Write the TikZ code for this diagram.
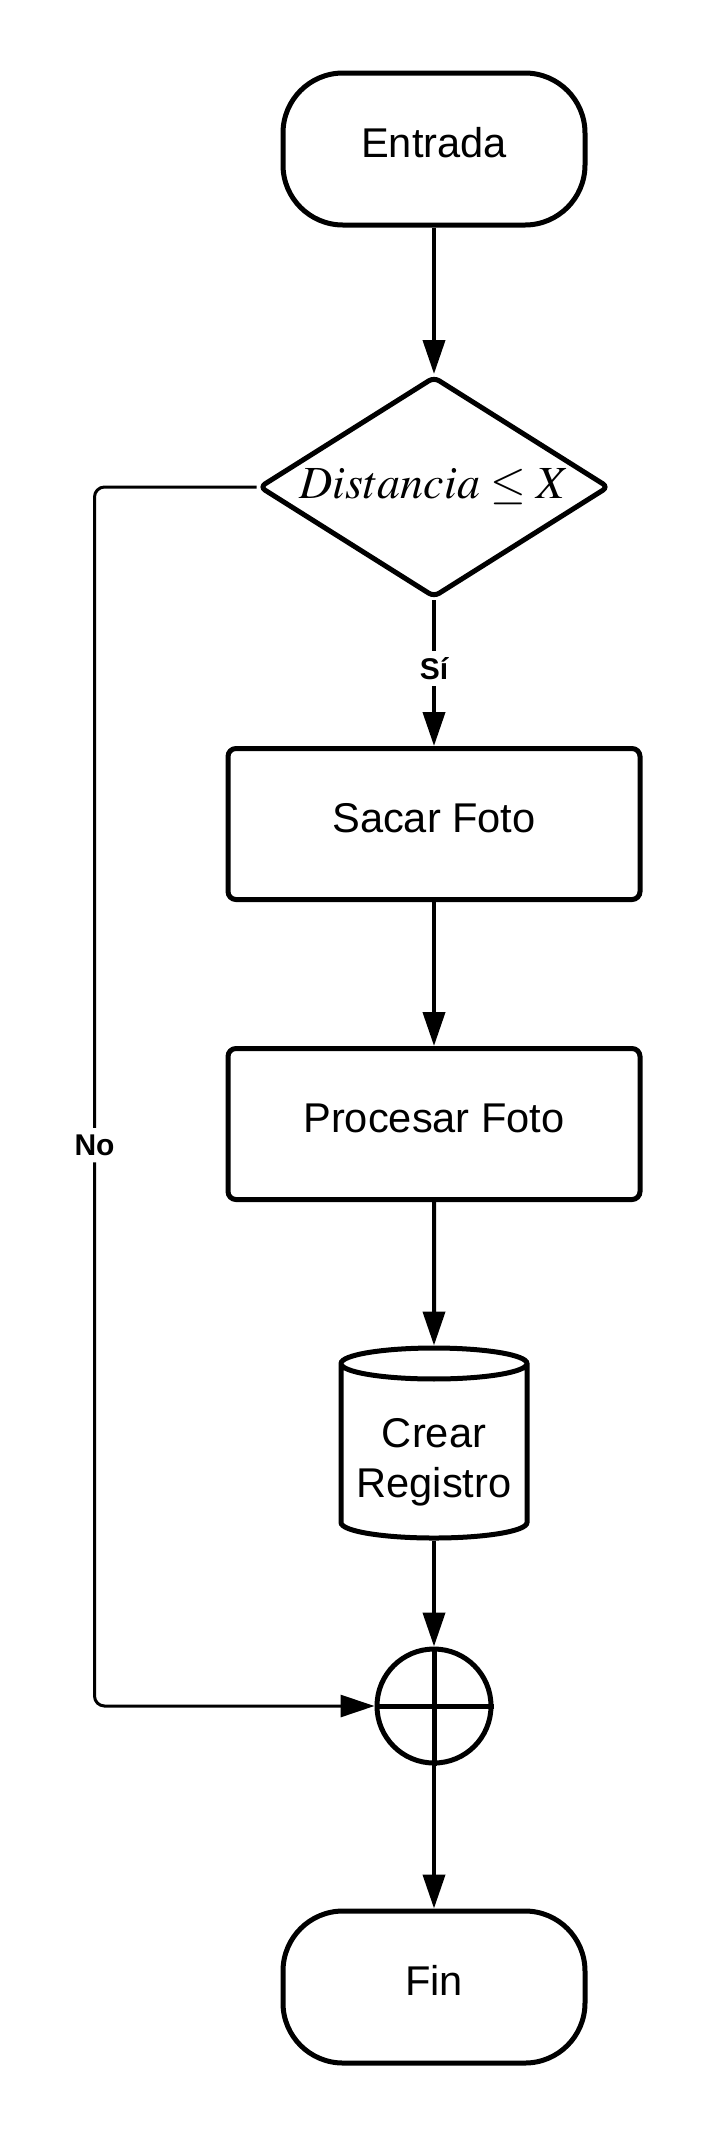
\documentclass[tikz,border=0pt]{standalone}
\usepackage{mathptmx}
\usepackage{fontspec}
\setmainfont{Liberation Sans}
\usetikzlibrary{%
  arrows.meta,%
  shapes.geometric,% diamond, cylinder
  positioning%
}

\tikzset{
  terminal/.style={draw, line width=2.5pt, rounded corners=30pt,
    minimum width=151pt, minimum height=76pt, text height=15pt, text depth=6.6pt},
  decision/.style={draw, diamond, line width=2.5pt, rounded corners=3pt,
    aspect=1.58, inner sep=0pt, minimum width=175pt, minimum height=110.5pt},
  process/.style={draw, line width=2.5pt, rounded corners=4pt,
    minimum width=206pt, minimum height=75.5pt, text height=15pt, text depth=6.6pt},
  database/.style={draw, cylinder, shape border rotate=90, aspect=0.2,
    line width=2.5pt, minimum width=93pt, minimum height=95pt, inner sep=0pt},
  junction/.style={draw, circle, line width=2.5pt, minimum size=57pt, inner sep=0pt},
  flow/.style={-{Triangle[length=17pt,width=11pt]}, line width=2pt},
  flowlabel/.style={fill=white, font=\fontsize{15}{18}\selectfont\bfseries},
}

\begin{document}
\begin{tikzpicture}[
  x=0.5pt, y=-0.5pt,
  font=\fontsize{20.8}{25}\selectfont,
]
\useasboundingbox (0,0) rectangle (716,2138);

\node[terminal] (entrada) at (434,149) {Entrada};
\node[decision] (dist) at (434,487) {\fontsize{23}{25}\selectfont $Distancia \leq X$};
\node[process] (sacar) at (434,824) {Sacar Foto};
\node[process] (procesar) at (434,1124) {Procesar Foto};
\node[database, anchor=shape center] (registro) at (434,1443)
  {\raisebox{-10.5pt}[0pt][0pt]{\begin{tabular}{@{}c@{}}Crear\\Registro\end{tabular}}};
\node[junction] (union) at (434,1706) {};
\node[terminal] (fin) at (434,1987) {Fin};

% cruz del conector
\draw[line width=2.5pt] (union.north) -- (union.south);
\draw[line width=2.5pt] (union.west) -- (union.east);

\draw[flow] (entrada) -- (dist);
\draw[flow] (dist) -- node[flowlabel, pos=0.47] (si) {Sí} (sacar);
\draw[flow] (sacar) -- (procesar);
\draw[flow] (procesar) -- (registro);
\draw[flow] (registro) -- (union);
\draw[flow] (union) -- (fin);
\draw[flow, line width=1.5pt, rounded corners=5pt] (dist.west) -- ++(-162,0)
  |- node[flowlabel, pos=0.27] (no) {No} (union.west);

\end{tikzpicture}
\end{document}
